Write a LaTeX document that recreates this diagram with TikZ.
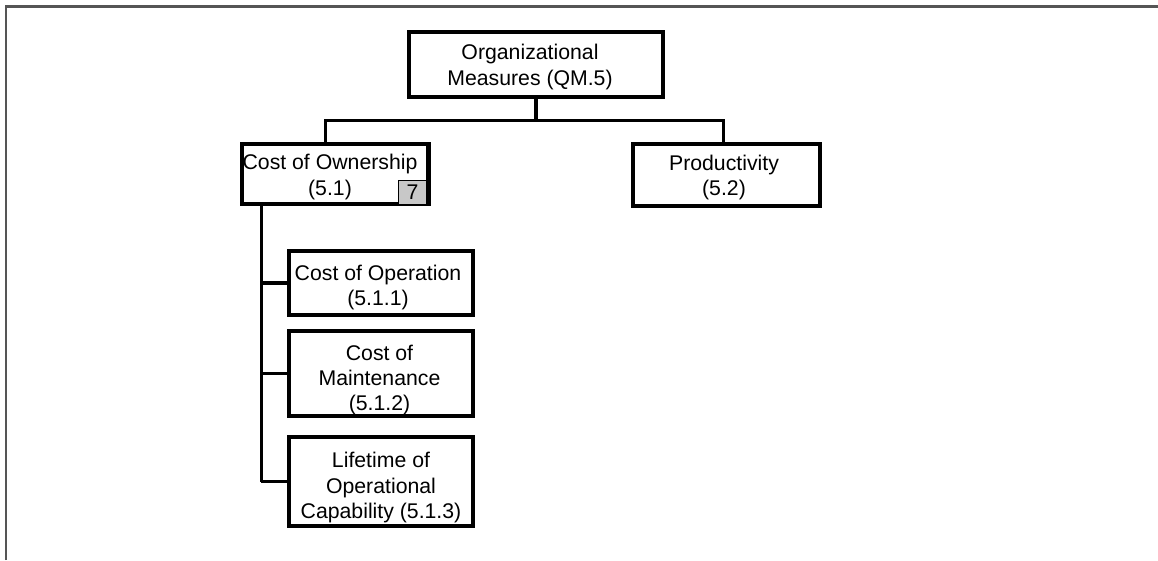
\documentclass[tikz,border=0pt]{standalone}
\usepackage{fontspec}
\setmainfont{Liberation Sans}
\usetikzlibrary{calc}
\definecolor{framegray}{HTML}{555555}
\definecolor{badgegray}{HTML}{C8C8C8}
\begin{document}
\begin{tikzpicture}[x=1pt,y=-1pt,
  boxshape/.style={draw=black, line width=3.1pt, rectangle, inner sep=0pt},
  txt/.style={font=\fontsize{21.25}{25.2}\selectfont, align=center, inner sep=0pt, text=black},
  conn/.style={draw=black, line width=3.1pt},
  thinconn/.style={draw=black, line width=2.2pt},
  framel/.style={draw=framegray, line width=2.5pt},
  badgebox/.style={draw=black, line width=1pt, fill=badgegray, inner sep=0pt, minimum width=28pt, minimum height=24pt, font=\fontsize{21.25}{25}\selectfont}
]
\useasboundingbox (0,0) rectangle (1158,560);
% frame
\draw[framel] (6,560) -- (6,6.5) -- (1158,6.5);

% boxes
\node[boxshape, minimum width=254pt, minimum height=65pt] (qm) at (536,64.5) {};
\node[boxshape, minimum width=186pt, minimum height=60pt] (own) at (335,174) {};
\node[boxshape, minimum width=187pt, minimum height=62pt] (prod) at (726.5,175) {};
\node[boxshape, minimum width=184pt, minimum height=64pt] (c1) at (381,283) {};
\node[boxshape, minimum width=184pt, minimum height=85pt] (c2) at (381,373.5) {};
\node[boxshape, minimum width=184pt, minimum height=89pt] (c3) at (381,481.5) {};

% texts
\node[txt] (tqm) at (530,67) {Organizational\\Measures (QM.5)};
\node[txt] (town) at (330,177) {Cost of Ownership\\(5.1)};
\node[txt] (tprod) at (724,177.5) {Productivity\\(5.2)};
\node[txt] (tc1) at (378,287.5) {Cost of Operation\\(5.1.1)};
\node[txt] (tc2) at (379.5,380) {Cost of\\Maintenance\\(5.1.2)};
\node[txt] (tc3) at (381,487.5) {Lifetime of\\Operational\\Capability (5.1.3)};

% badge
\node[badgebox] (badge) at (412.5,192.5) {7};
\draw[line width=3.1pt] (own.north east) -- (own.south east);

% connectors top level
\coordinate (bus) at ($(qm.south)+(0,22)$);
\draw[conn] (qm.south) -- (bus);
\draw[conn] ($(own.north west)+(85,0)$) |- (bus) -| ($(prod.north west)+(92,0)$);

% trunk under Cost of Ownership
\coordinate (tk) at ($(own.south west)+(21,0)$);
\draw[conn] (tk) -- ($(tk |- c2.west)+(0,-11)$) coordinate (tkmid);
\draw[thinconn] (tkmid) -- (tk |- c3.west);
\draw[conn] (c1.west) -- (c1.west -| tk);
\draw[thinconn] (c2.west) -- (c2.west -| tk);
\draw[thinconn] (c3.west) -- (c3.west -| tk);
\end{tikzpicture}
\end{document}
